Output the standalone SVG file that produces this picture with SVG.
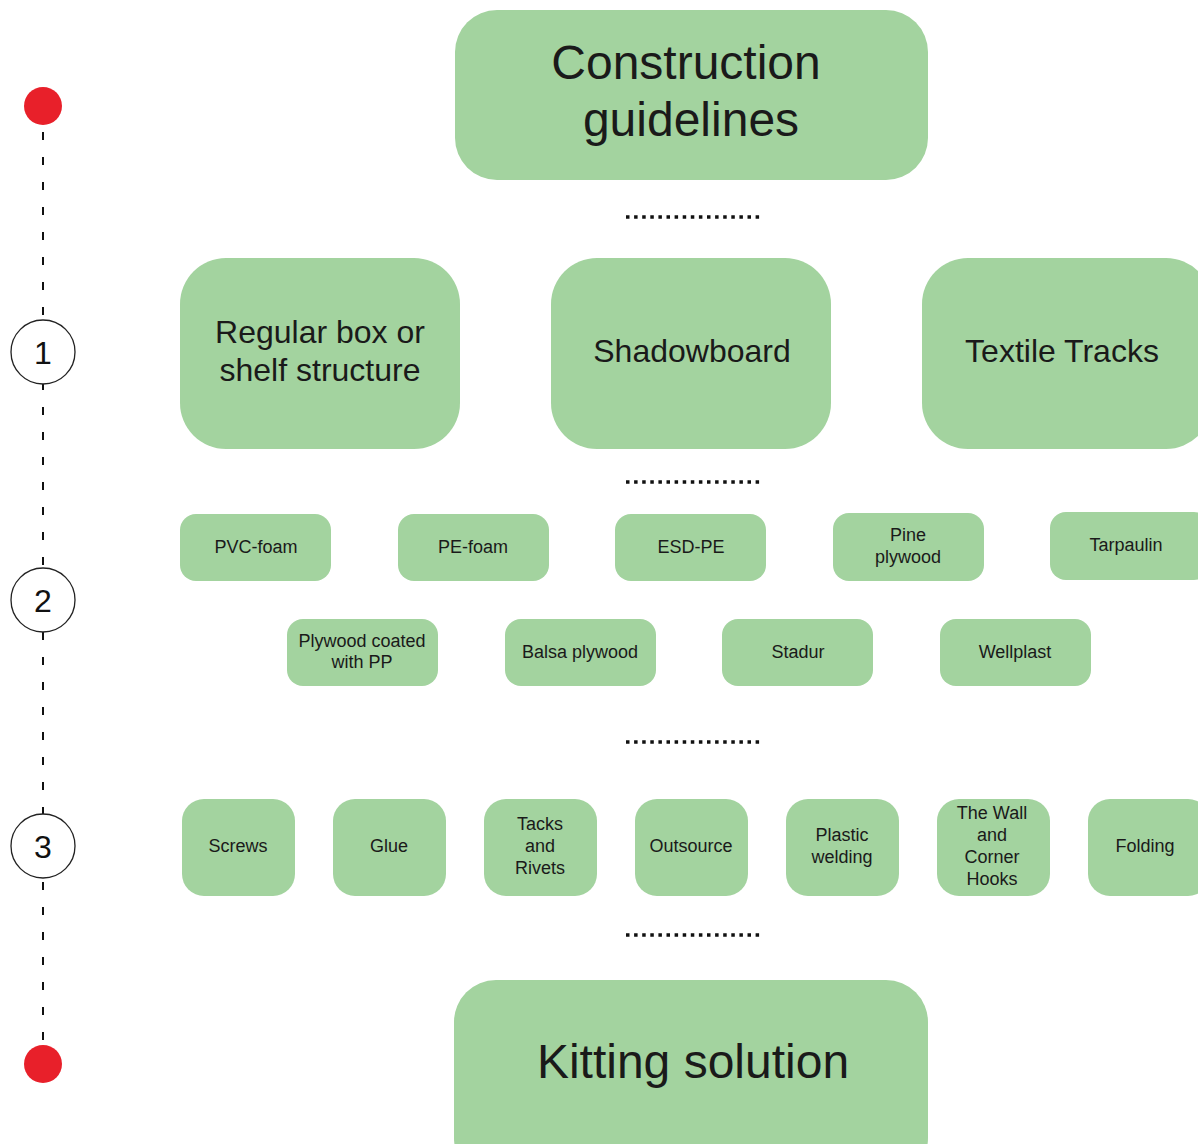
<svg xmlns="http://www.w3.org/2000/svg" width="1198" height="1144" viewBox="0 0 1198 1144">
<style>
.n{fill:#a3d39f}
.t{font-family:"Liberation Sans",Arial,sans-serif;fill:#1a1a1a;text-anchor:middle}
.big{font-size:48px}
.mid{font-size:32px}
.sm{font-size:18px}
.dots{stroke:#111;stroke-width:3.5;stroke-dasharray:3.5 4.6;fill:none}
.dash{stroke:#111;stroke-width:2;stroke-dasharray:8 17;fill:none}
.num{fill:#fff;stroke:#222;stroke-width:1.3}
.nt{font-family:"Liberation Sans",Arial,sans-serif;font-size:32px;fill:#111;text-anchor:middle}
</style>
<rect width="1198" height="1144" fill="#fff"/>
<g id="connectors">
<line class="dash" x1="43" y1="132" x2="43" y2="1045"/>
<line class="dots" x1="626" y1="217" x2="760" y2="217"/>
<line class="dots" x1="626" y1="482" x2="760" y2="482"/>
<line class="dots" x1="626" y1="742" x2="760" y2="742"/>
<line class="dots" x1="626" y1="935" x2="760" y2="935"/>
</g>
<g id="timeline">
<circle cx="43" cy="106" r="19" fill="#e8202a"/>
<circle cx="43" cy="1064" r="19" fill="#e8202a"/>
<g id="step1"><circle class="num" cx="43" cy="352" r="32"/><text class="nt" x="43" y="364">1</text></g>
<g id="step2"><circle class="num" cx="43" cy="600" r="32"/><text class="nt" x="43" y="612">2</text></g>
<g id="step3"><circle class="num" cx="43" cy="846" r="32"/><text class="nt" x="43" y="858">3</text></g>
</g>
<g id="construction"><rect class="n" x="455" y="10" width="473" height="170" rx="42"/><text class="t big" x="686" y="79">Construction</text><text class="t big" x="691" y="136">guidelines</text></g>
<g id="regular"><rect class="n" x="180" y="258" width="280" height="191" rx="46"/><text class="t mid" x="320" y="343">Regular box or</text><text class="t mid" x="320" y="381">shelf structure</text></g>
<g id="shadowboard"><rect class="n" x="551" y="258" width="280" height="191" rx="46"/><text class="t mid" x="692" y="362">Shadowboard</text></g>
<g id="textile"><rect class="n" x="922" y="258" width="290" height="191" rx="46"/><text class="t mid" x="1062" y="362">Textile Tracks</text></g>
<g id="pvc"><rect class="n" x="180" y="514" width="151" height="67" rx="16"/><text class="t sm" x="256" y="553">PVC-foam</text></g>
<g id="pe"><rect class="n" x="398" y="514" width="151" height="67" rx="16"/><text class="t sm" x="473" y="553">PE-foam</text></g>
<g id="esd"><rect class="n" x="615" y="514" width="151" height="67" rx="16"/><text class="t sm" x="691" y="553">ESD-PE</text></g>
<g id="pine"><rect class="n" x="833" y="513" width="151" height="68" rx="16"/><text class="t sm" x="908" y="541">Pine</text><text class="t sm" x="908" y="563">plywood</text></g>
<g id="tarpaulin"><rect class="n" x="1050" y="512" width="160" height="68" rx="16"/><text class="t sm" x="1126" y="551">Tarpaulin</text></g>
<g id="plywoodpp"><rect class="n" x="287" y="619" width="151" height="67" rx="16"/><text class="t sm" x="362" y="647">Plywood coated</text><text class="t sm" x="362" y="668">with PP</text></g>
<g id="balsa"><rect class="n" x="505" y="619" width="151" height="67" rx="16"/><text class="t sm" x="580" y="658">Balsa plywood</text></g>
<g id="stadur"><rect class="n" x="722" y="619" width="151" height="67" rx="16"/><text class="t sm" x="798" y="658">Stadur</text></g>
<g id="wellplast"><rect class="n" x="940" y="619" width="151" height="67" rx="16"/><text class="t sm" x="1015" y="658">Wellplast</text></g>
<g id="screws"><rect class="n" x="182" y="799" width="113" height="97" rx="22"/><text class="t sm" x="238" y="852">Screws</text></g>
<g id="glue"><rect class="n" x="333" y="799" width="113" height="97" rx="22"/><text class="t sm" x="389" y="852">Glue</text></g>
<g id="tacks"><rect class="n" x="484" y="799" width="113" height="97" rx="22"/><text class="t sm" x="540" y="830">Tacks</text><text class="t sm" x="540" y="852">and</text><text class="t sm" x="540" y="874">Rivets</text></g>
<g id="outsource"><rect class="n" x="635" y="799" width="113" height="97" rx="22"/><text class="t sm" x="691" y="852">Outsource</text></g>
<g id="plastic"><rect class="n" x="786" y="799" width="113" height="97" rx="22"/><text class="t sm" x="842" y="841">Plastic</text><text class="t sm" x="842" y="863">welding</text></g>
<g id="wall"><rect class="n" x="937" y="799" width="113" height="97" rx="22"/><text class="t sm" x="992" y="819">The Wall</text><text class="t sm" x="992" y="841">and</text><text class="t sm" x="992" y="863">Corner</text><text class="t sm" x="992" y="885">Hooks</text></g>
<g id="folding"><rect class="n" x="1088" y="799" width="122" height="97" rx="22"/><text class="t sm" x="1145" y="852">Folding</text></g>
<g id="kitting"><rect class="n" x="454" y="980" width="474" height="200" rx="42"/><text class="t big" x="693" y="1078">Kitting solution</text></g>
</svg>
